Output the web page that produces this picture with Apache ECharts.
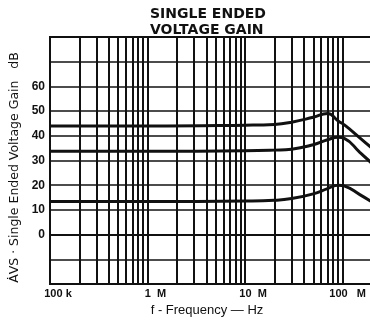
<!DOCTYPE html>
<html>
<head>
<meta charset="utf-8">
<script src="https://cdn.jsdelivr.net/npm/echarts@6/dist/echarts.min.js"></script>
<style>
  html, body { margin: 0; padding: 0; background: #fff; }
  #chart { width: 370px; height: 324px; }
</style>
</head>
<body>
<div id="chart"></div>
<script>
// frequency points (Hz) shared by the three curves
const freqHz = [1e5, 1e6, 1e7, 2e7, 3e7, 5e7, 7e7, 9e7, 1.05e8, 1.5e8, 2e8]
// gain in dB
const gainUpper = [44.0, 44.0, 44.3, 44.6, 45.5, 47.5, 49.0, 46.0, 44.3, 39.2, 34.9]
const gainMiddle = [33.7, 33.7, 33.9, 34.2, 34.6, 36.4, 38.4, 39.4, 38.9, 33.3, 28.8]
const gainLower = [13.4, 13.4, 13.6, 13.9, 14.6, 16.5, 18.6, 20.0, 19.6, 16.2, 13.2]

// tick labels
const xTickValues = [1e5, 1e6, 1e7, 1e8]
const xTickLabels = ['100 k', '1  M', '10  M', '100   M']
const yTickLabels = [0, 10, 20, 30, 40, 50, 60]

// minor log grid lines 2..9 in each decade
const minorGrid = []
for (let d = 1e5; d < 1e8; d *= 10) {
  for (let m = 2; m <= 9; m++) minorGrid.push(m * d)
}

const ink = '#111'

function pairs(ys) {
  return freqHz.map((f, i) => [f, ys[i]])
}

function curve(name, ys) {
  return {
    name: name,
    type: 'line',
    data: pairs(ys),
    smooth: 0.5,
    symbol: 'none',
    z: 5,
    lineStyle: { color: ink, width: 3 }
  }
}

const chart = echarts.init(document.getElementById('chart'))

chart.setOption({
  animation: false,
  backgroundColor: '#fff',
  graphic: [{
    type: 'text',
    left: 150,
    top: 6,
    style: {
      text: 'SINGLE ENDED\nVOLTAGE GAIN',
      align: 'center',
      x: 60,
      fill: ink,
      font: 'bold 14px "DejaVu Sans"',
      lineHeight: 16
    }
  }],
  grid: {
    left: 50,
    right: -2,
    top: 37,
    bottom: 40,
    outerBoundsMode: 'none',
    show: true,
    borderColor: ink,
    borderWidth: 2
  },
  xAxis: {
    type: 'log',
    logBase: 10,
    min: 1e5,
    max: 2e8,
    name: 'f - Frequency \u2014 Hz',
    nameLocation: 'middle',
    nameGap: 20,
    nameTextStyle: {
      color: ink,
      fontFamily: 'Liberation Sans',
      fontSize: 13,
      padding: [0, 8, 0, 0]
    },
    axisLine: { show: true, lineStyle: { color: ink, width: 2 } },
    axisTick: { show: false },
    splitLine: { show: true, lineStyle: { color: ink, width: 2 } },
    axisLabel: {
      margin: 4,
      align: 'center',
      formatter: function (v) {
        const p = Math.round(Math.log10(v))
        const i = xTickValues.findIndex(t => Math.round(Math.log10(t)) === p && Math.abs(Math.log10(v) - p) < 1e-6)
        if (i < 0) return ''
        return (i === 3 ? '{b|' : '{a|') + xTickLabels[i] + '}'
      },
      rich: {
        a: { padding: [0, 0, 0, 16], color: ink, fontFamily: 'Liberation Sans', fontWeight: 'bold', fontSize: 11 },
        b: { padding: [0, 0, 0, 10], color: ink, fontFamily: 'Liberation Sans', fontWeight: 'bold', fontSize: 11 }
      }
    }
  },
  yAxis: {
    type: 'value',
    min: -20,
    max: 80,
    interval: 10,
    name: '\u0226VS \u00b7 Single Ended Voltage Gain   dB',
    nameLocation: 'middle',
    nameGap: 28,
    nameTextStyle: {
      color: ink,
      fontFamily: 'DejaVu Sans',
      fontSize: 12.5,
      padding: [0, 14, 0, 0]
    },
    axisLine: { show: true, lineStyle: { color: ink, width: 2 } },
    axisTick: { show: false },
    splitLine: { show: true, lineStyle: { color: ink, width: 1.5 } },
    axisLabel: {
      margin: 5,
      color: ink,
      fontFamily: 'Liberation Sans',
      fontWeight: 'bold',
      fontSize: 12,
      formatter: v => (yTickLabels.includes(v) ? String(v) : '')
    }
  },
  series: [
    {
      type: 'line',
      data: [],
      silent: true,
      markLine: {
        silent: true,
        symbol: 'none',
        animation: false,
        label: { show: false },
        lineStyle: { color: ink, width: 2, type: 'solid' },
        data: minorGrid.map(f => ({ xAxis: f }))
      }
    },
    curve('upper', gainUpper),
    curve('middle', gainMiddle),
    curve('lower', gainLower)
  ]
})
</script>
</body>
</html>
